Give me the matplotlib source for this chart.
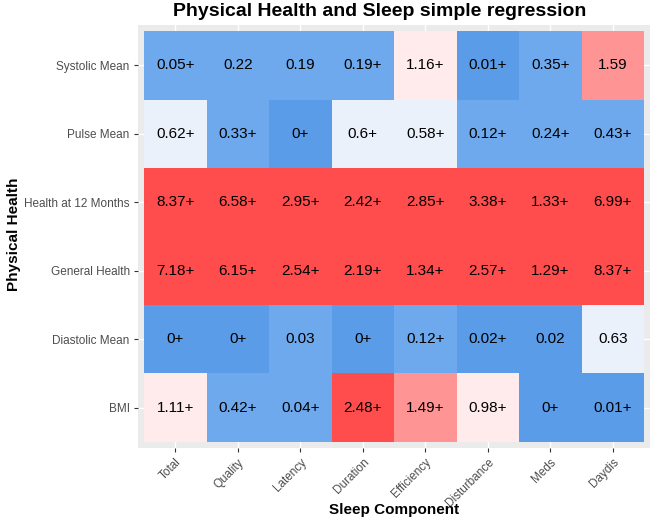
import matplotlib
matplotlib.use("Agg")
import matplotlib.pyplot as plt
import numpy as np
from matplotlib.colors import ListedColormap, BoundaryNorm

plt.rcParams["font.family"] = ["Liberation Sans", "DejaVu Sans"]

# Sleep components (columns) and physical health measures (rows, top to bottom)
components = ["Total", "Quality", "Latency", "Duration", "Efficiency", "Disturbance", "Meds", "Daydis"]
measures = ["Systolic Mean", "Pulse Mean", "Health at 12 Months", "General Health", "Diastolic Mean", "BMI"]

# regression values shown in each cell
systolic = [0.05, 0.22, 0.19, 0.19, 1.16, 0.01, 0.35, 1.59]
pulse = [0.62, 0.33, 0.0, 0.6, 0.58, 0.12, 0.24, 0.43]
health12 = [8.37, 6.58, 2.95, 2.42, 2.85, 3.38, 1.33, 6.99]
general = [7.18, 6.15, 2.54, 2.19, 1.34, 2.57, 1.29, 8.37]
diastolic = [0.0, 0.0, 0.03, 0.0, 0.12, 0.02, 0.02, 0.63]
bmi = [1.11, 0.42, 0.04, 2.48, 1.49, 0.98, 0.0, 0.01]

# "+" marker next to the value
systolic_plus = [1, 0, 0, 1, 1, 1, 1, 0]
pulse_plus = [1, 1, 1, 1, 1, 1, 1, 1]
health12_plus = [1, 1, 1, 1, 1, 1, 1, 1]
general_plus = [1, 1, 1, 1, 1, 1, 1, 1]
diastolic_plus = [1, 1, 0, 1, 1, 1, 0, 0]
bmi_plus = [1, 1, 1, 1, 1, 1, 1, 1]

# fill class of each tile (0 = deepest blue ... 5 = red)
systolic_fill = [1, 1, 1, 1, 3, 0, 1, 4]
pulse_fill = [2, 1, 0, 2, 2, 1, 1, 1]
health12_fill = [5, 5, 5, 5, 5, 5, 5, 5]
general_fill = [5, 5, 5, 5, 5, 5, 5, 5]
diastolic_fill = [0, 0, 1, 0, 1, 0, 0, 2]
bmi_fill = [3, 1, 1, 5, 4, 3, 0, 0]

values = np.array([systolic, pulse, health12, general, diastolic, bmi])
plus = np.array([systolic_plus, pulse_plus, health12_plus, general_plus, diastolic_plus, bmi_plus])
fill = np.array([systolic_fill, pulse_fill, health12_fill, general_fill, diastolic_fill, bmi_fill])

palette = ["#5A9CE7", "#6DA9EC", "#EAF1FA", "#FFEBEB", "#FF9494", "#FF4C4C"]
cmap = ListedColormap(palette)
norm = BoundaryNorm(np.arange(-0.5, 6.5, 1), cmap.N)

W, H = 653, 522
fig = plt.figure(figsize=(W / 100, H / 100), dpi=100)
ax = fig.add_axes([138 / W, 74 / H, 512 / W, 423 / H])
ax.set_facecolor("#EBEBEB")

nx, ny = len(components), len(measures)
ax.pcolormesh(np.arange(nx + 1) - 0.5, np.arange(ny + 1) - 0.5, fill,
              cmap=cmap, norm=norm, zorder=2)

for i in range(ny):
    for j in range(nx):
        label = f"{values[i, j]:g}" + ("+" if plus[i, j] else "")
        ax.text(j, i, label, ha="center", va="center", fontsize=11, color="black", zorder=3)

pad_x, pad_y = 0.096, 0.088
ax.set_xlim(-0.5 - pad_x, nx - 0.5 + pad_x)
ax.set_ylim(ny - 0.5 + pad_y, -0.5 - pad_y)

ax.set_xticks(range(nx))
ax.set_xticklabels(components, rotation=45, ha="right", rotation_mode="anchor",
                   fontsize=8.5, color="#4D4D4D")
ax.set_yticks(range(ny))
ax.set_yticklabels(measures, fontsize=8.5, color="#4D4D4D")
ax.tick_params(length=3, color="#333333", width=0.8, pad=3)
ax.grid(True, color="white", linewidth=1)
ax.set_axisbelow(True)
for s in ax.spines.values():
    s.set_visible(False)

fig.text(394 / W, 1 - 510 / H, "Sleep Component", fontsize=11, fontweight="bold",
         ha="center", va="center")
fig.text(14 / W, 1 - 234 / H, "Physical Health", fontsize=11, fontweight="bold",
         ha="center", va="center", rotation=90)
fig.text(380 / W, 1 - 12 / H, "Physical Health and Sleep simple regression", fontsize=14,
         fontweight="bold", ha="center", va="center")

fig.savefig("out.png", dpi=100)
